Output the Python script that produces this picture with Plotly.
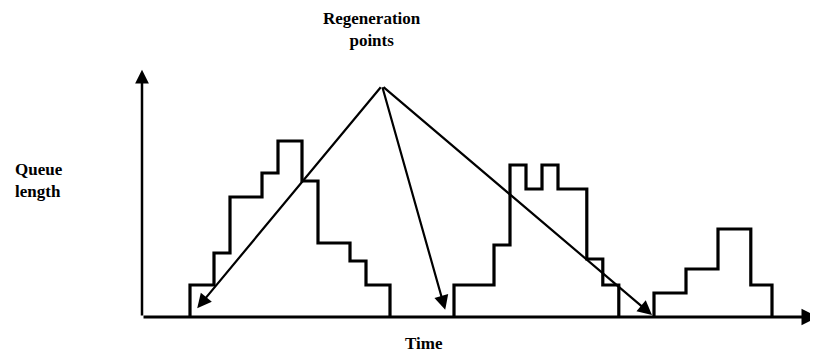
'''
    Queue length over time with regeneration points
'''

#%% Import modules
import plotly.graph_objects as go

#%% Data (time units on x, queue length units on y)

# three busy periods, drawn as step functions (corner points)
busy1_time = [6, 6, 9, 11, 15, 17, 20, 22, 26, 28, 31]
busy1_queue = [0, 4, 8, 15, 18, 22, 17, 9.25, 7, 4, 0]

busy2_time = [39, 39, 44, 46, 48, 50, 52, 55.6, 57.6, 59.6]
busy2_queue = [0, 4, 9, 19, 16, 19, 16, 7.25, 4, 0]

busy3_time = [64, 64, 68, 72, 76.1, 78.75]
busy3_queue = [0, 3, 6, 11, 4, 0]

# label point and where the arrows land
regen_from_time = 30
regen_from_queue = 28.9
regen_to_time = [6.9, 37.9, 63.75]
regen_to_queue = [1.1, 0.9, 0.25]

# axis extents
time_max = 84.5
queue_max = 30.9

#%% Plot

fig = go.Figure()

for t, q in [(busy1_time, busy1_queue), (busy2_time, busy2_queue), (busy3_time, busy3_queue)]:
    fig.add_trace(go.Scatter(x=t, y=q, mode="lines", line_shape="hv",
                             line=dict(color="black", width=3.2),
                             hoverinfo="skip", showlegend=False))

# axes with arrow heads
fig.add_annotation(x=time_max, y=0, ax=0, ay=0, xref="x", yref="y",
                   axref="x", ayref="y", text="", showarrow=True,
                   arrowhead=2, arrowsize=1.1, arrowwidth=3, arrowcolor="black")
fig.add_annotation(x=0, y=queue_max, ax=0, ay=0, xref="x", yref="y",
                   axref="x", ayref="y", text="", showarrow=True,
                   arrowhead=2, arrowsize=1.1, arrowwidth=2.5, arrowcolor="black")

# regeneration arrows
for t, q in zip(regen_to_time, regen_to_queue):
    fig.add_annotation(x=t, y=q, ax=regen_from_time, ay=regen_from_queue,
                       xref="x", yref="y", axref="x", ayref="y", text="",
                       showarrow=True, arrowhead=2, arrowsize=1.3,
                       arrowwidth=2.2, arrowcolor="black", standoff=0)

lbl = dict(family="Liberation Serif, Times New Roman, serif", size=17, color="black")
fig.add_annotation(x=28.75, y=36, xref="x", yref="y", showarrow=False,
                   text="<b>Regeneration<br>points</b>", font=lbl, align="center")
fig.add_annotation(x=-16.1, y=17.1, xref="x", yref="y", showarrow=False,
                   text="<b>Queue<br>length</b>", font=lbl, align="left",
                   xanchor="left")
fig.add_annotation(x=35.25, y=-3.25, xref="x", yref="y", showarrow=False,
                   text="<b>Time</b>", font=lbl)

# the page body keeps an 8px margin, so the figure is 8px smaller each way
fig.update_xaxes(range=[-16.75, 84.5], visible=False)
fig.update_yaxes(range=[-4.625, 38.625], visible=False)
fig.update_layout(width=810, height=346, margin=dict(l=0, r=0, t=0, b=0),
                  plot_bgcolor="white", paper_bgcolor="white")

fig.write_html("out.html")
